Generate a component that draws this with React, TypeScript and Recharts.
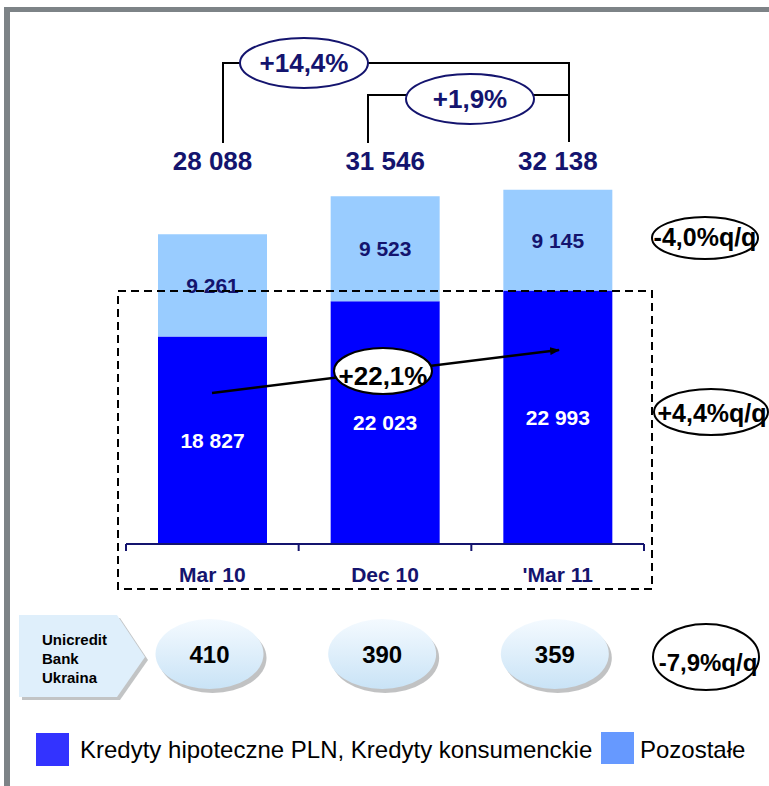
import React from 'react';
import { BarChart, Bar, XAxis, YAxis, LabelList } from 'recharts';

if (typeof document !== 'undefined') {
  document.body.style.margin = '0';
}

const categories = ['Mar 10', 'Dec 10', "'Mar 11"];
const kredyty = [18827, 22023, 22993];
const pozostale = [9261, 9523, 9145];
const totals = [28088, 31546, 32138];
const ukraina = [410, 390, 359];
const qoqLabels = ['-4,0%q/q', '+4,4%q/q', '-7,9%q/q'];
const growthLabels = ['+14,4%', '+1,9%', '+22,1%'];
const legendLabels = ['Kredyty hipoteczne PLN, Kredyty konsumenckie', 'Pozostałe'];

const data = categories.map((name, i) => ({
  name,
  kredyty: kredyty[i],
  pozostale: pozostale[i],
}));

const FONT = "'Liberation Sans', Arial, sans-serif";
const NAVY = '#14146e';
const DARK = '#0000ff';
const LIGHT = '#99ccff';

const fmt = (v: number) => String(v).replace(/\B(?=(\d{3})+(?!\d))/g, ' ');

const getBox = (props: any) => {
  const vb = props.viewBox || props;
  return { x: vb.x ?? props.x, y: vb.y ?? props.y, width: vb.width ?? props.width };
};

const CategoryTick = (props: any) => {
  const { x, y, payload, index } = props;
  const half = payload.offset || 86;
  return (
    <g>
      <line x1={x - half} x2={x - half} y1={y} y2={y + 7} stroke={NAVY} strokeWidth={2} />
      {index === categories.length - 1 && (
        <line x1={x + half} x2={x + half} y1={y} y2={y + 7} stroke={NAVY} strokeWidth={2} />
      )}
      <text x={x} y={y + 38} textAnchor="middle" fill={NAVY} fontSize={21} fontWeight="bold" fontFamily={FONT}>
        {payload.value}
      </text>
    </g>
  );
};

const TotalLabel = (props: any) => {
  const { x, width } = getBox(props);
  return (
    <text x={x + width / 2} y={170} textAnchor="middle" fill={NAVY} fontSize={26} fontWeight="bold" fontFamily={FONT}>
      {fmt(totals[props.index])}
    </text>
  );
};

const UkrainaBubble = (props: any) => {
  const { x, width } = getBox(props);
  const i = props.index;
  const cx = x + width / 2 - 3;
  const cy = 654;
  return (
    <g>
      <defs>
        <linearGradient id={`bub${i}`} x1="0" y1="0" x2="0" y2="1">
          <stop offset="0%" stopColor="#f4faff" />
          <stop offset="100%" stopColor="#c9e3f6" />
        </linearGradient>
      </defs>
      <ellipse cx={cx + 3} cy={cy + 4} rx={54} ry={35} fill="#8e9092" opacity={0.55} />
      <ellipse cx={cx} cy={cy} rx={54} ry={35} fill={`url(#bub${i})`} />
      <text x={cx} y={cy + 9} textAnchor="middle" fill="#000" fontSize={24} fontWeight="bold" fontFamily={FONT}>
        {ukraina[i]}
      </text>
    </g>
  );
};

function Overlay() {
  const t = { fontFamily: FONT, fontWeight: 'bold' as const };
  return (
    <svg width={769} height={786} style={{ position: 'absolute', left: 0, top: 0, pointerEvents: 'none' }}>
      <defs>
        <marker id="arrow" markerWidth="10" markerHeight="8" refX="9" refY="4" orient="auto" markerUnits="userSpaceOnUse">
          <path d="M0,0 L10,4 L0,8 z" fill="#000" />
        </marker>
      </defs>
      {/* frame */}
      <rect x={4} y={7} width={765} height={5} fill="#7d8387" />
      <rect x={4} y={7} width={6} height={779} fill="#7d8387" />

      {/* brackets */}
      <path d="M223 143 V63 H241 M368 63 H569 V142 M368 143 V95 H407 M534 95 H569" fill="none" stroke="#000" strokeWidth={2} />
      <ellipse cx={304} cy={63} rx={64} ry={25} fill="#fff" stroke={NAVY} strokeWidth={2} />
      <text x={304} y={72} textAnchor="middle" fill={NAVY} fontSize={26} {...t}>{growthLabels[0]}</text>
      <ellipse cx={470} cy={99} rx={64} ry={25} fill="#fff" stroke={NAVY} strokeWidth={2} />
      <text x={470} y={108} textAnchor="middle" fill={NAVY} fontSize={26} {...t}>{growthLabels[1]}</text>

      {/* dashed box */}
      <rect x={118} y={291} width={534} height={298} fill="none" stroke="#000" strokeWidth={2} strokeDasharray="8 5" />

      {/* growth arrow */}
      <line x1={212} y1={393} x2={559} y2={350} stroke="#000" strokeWidth={2.5} markerEnd="url(#arrow)" />
      <ellipse cx={383} cy={371} rx={49} ry={23} fill="#fff" stroke="#000" strokeWidth={2} />
      <text x={383} y={385} textAnchor="middle" fill="#000" fontSize={26} {...t}>{growthLabels[2]}</text>

      {/* q/q bubbles */}
      <ellipse cx={705} cy={238} rx={53} ry={21} fill="#fff" stroke="#000" strokeWidth={2} />
      <text x={705} y={246} textAnchor="middle" fill="#000" fontSize={25} {...t}>{qoqLabels[0]}</text>
      <ellipse cx={711} cy={412} rx={57} ry={23} fill="#fff" stroke="#000" strokeWidth={2} />
      <text x={712} y={422} textAnchor="middle" fill="#000" fontSize={25} {...t}>{qoqLabels[1]}</text>
      <ellipse cx={706} cy={657} rx={53} ry={33} fill="#fff" stroke="#000" strokeWidth={2} />
      <text x={708} y={671} textAnchor="middle" fill="#000" fontSize={24} {...t}>{qoqLabels[2]}</text>

      {/* Ukraina tag */}
      <polygon points="22,618 120,618 148,660 120,700 22,700" fill="#9a9c9e" opacity={0.6} />
      <polygon points="19,615 117,615 145,657 117,697 19,697" fill="#dfeffb" />
      <text x={42} y={645} fill="#000" fontSize={15} {...t}>Unicredit</text>
      <text x={42} y={664} fill="#000" fontSize={15} {...t}>Bank</text>
      <text x={42} y={683} fill="#000" fontSize={15} {...t}>Ukraina</text>

      {/* legend */}
      <rect x={36} y={733} width={33} height={33} fill="#3333ff" />
      <text x={80} y={758} fill="#000" fontSize={24} fontFamily={FONT}>{legendLabels[0]}</text>
      <rect x={601} y={732} width={33} height={32} fill="#6699ff" />
      <text x={640} y={758} fill="#000" fontSize={24} fontFamily={FONT}>{legendLabels[1]}</text>
    </svg>
  );
}

export default function App() {
  return (
    <div style={{ position: 'relative', width: 769, height: 786, background: '#fff', overflow: 'hidden' }}>
      <BarChart
        width={769}
        height={786}
        data={data}
        margin={{ top: 103, right: 125, left: 126, bottom: 202 }}
      >
        <XAxis
          dataKey="name"
          height={40}
          axisLine={{ stroke: NAVY, strokeWidth: 2 }}
          tickLine={false}
          tickSize={0}
          tickMargin={0}
          tick={<CategoryTick />}
          interval={0}
        />
        <YAxis hide domain={[0, 40000]} />
        <Bar dataKey="kredyty" stackId="a" fill={DARK} barSize={109} isAnimationActive={false}>
          <LabelList dataKey="kredyty" position="center" formatter={(v: any) => fmt(v)} fill="#fff" fontSize={21} fontWeight="bold" fontFamily={FONT} />
          <LabelList dataKey="kredyty" content={<UkrainaBubble />} />
        </Bar>
        <Bar dataKey="pozostale" stackId="a" fill={LIGHT} barSize={109} isAnimationActive={false}>
          <LabelList dataKey="pozostale" position="center" formatter={(v: any) => fmt(v)} fill={NAVY} fontSize={21} fontWeight="bold" fontFamily={FONT} />
          <LabelList dataKey="pozostale" content={<TotalLabel />} />
        </Bar>
      </BarChart>
      <Overlay />
    </div>
  );
}
